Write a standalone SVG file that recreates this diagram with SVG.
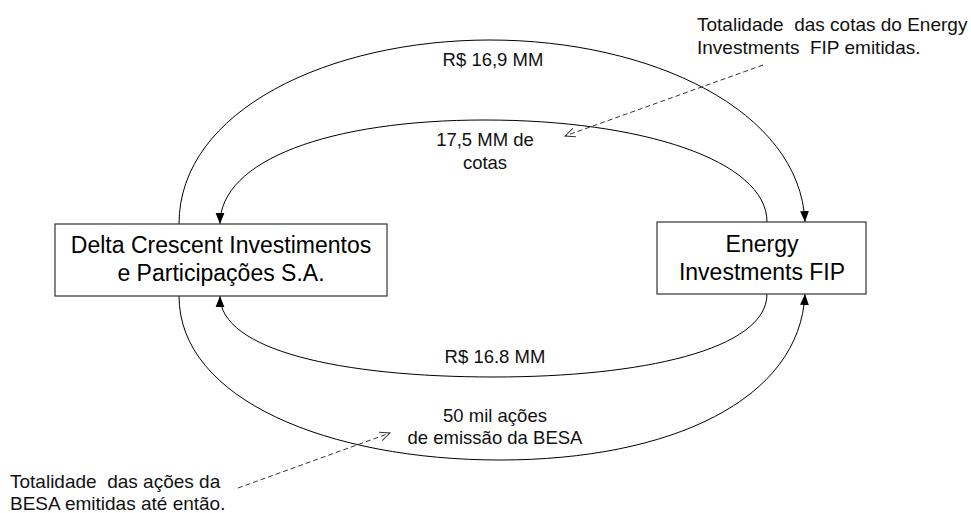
<svg xmlns="http://www.w3.org/2000/svg" width="971" height="513" viewBox="0 0 971 513">
<defs>
<marker id="solid" viewBox="0 0 10 10" refX="10" refY="5" markerWidth="11" markerHeight="11" markerUnits="userSpaceOnUse" orient="auto">
<path d="M0,1 L10,5 L0,9 z" fill="#000"/>
</marker>
<marker id="open" viewBox="0 0 12 12" refX="11" refY="6" markerWidth="12" markerHeight="12" markerUnits="userSpaceOnUse" orient="auto">
<path d="M1,1.5 L11,6 L1,10.5" fill="none" stroke="#333" stroke-width="1"/>
</marker>
<style>
.box{fill:#fff;stroke:#333;stroke-width:1.2}
.arc{fill:none;stroke:#000;stroke-width:1;marker-end:url(#solid)}
.dash{fill:none;stroke:#333;stroke-width:1;stroke-dasharray:5 3;marker-end:url(#open)}
.big{font-family:"Liberation Sans",Arial,sans-serif;font-size:23px;fill:#000;text-anchor:middle}
.lbl{font-family:"Liberation Sans",Arial,sans-serif;font-size:18.5px;fill:#111;text-anchor:middle}
.note{font-family:"Liberation Sans",Arial,sans-serif;font-size:19px;fill:#111}
</style>
</defs>
<rect width="971" height="513" fill="#fff"/>
<g id="connectors">
<path class="arc" d="M179,224 C179,110 330,40 490,40 C650,40 800,110 805,222"/>
<path class="arc" d="M767,222 C767,160 640,120 485,120 C330,120 220,160 220,224"/>
<path class="arc" d="M767,294 C767,350 640,377 494,377 C340,377 220,350 220,296"/>
<path class="arc" d="M179,296 C179,400 330,460 500,460 C670,460 800,400 805,294"/>
<path class="dash" d="M763,65 L565,136"/>
<path class="dash" d="M238,488 L390,433"/>
</g>
<g id="delta">
<rect class="box" x="55" y="224" width="332" height="72"/>
<text class="big" x="221" y="253">Delta Crescent Investimentos</text>
<text class="big" x="221" y="281">e Participações S.A.</text>
</g>
<g id="energy">
<rect class="box" x="657" y="222" width="209" height="72"/>
<text class="big" x="762" y="252">Energy</text>
<text class="big" x="762" y="280">Investments FIP</text>
</g>
<g id="labels">
<text class="lbl" x="493" y="66">R$ 16,9 MM</text>
<text class="lbl" x="485" y="146">17,5 MM de</text>
<text class="lbl" x="485" y="169">cotas</text>
<text class="lbl" x="495" y="363">R$ 16.8 MM</text>
<text class="lbl" x="495" y="422">50 mil ações</text>
<text class="lbl" x="495" y="444">de emissão da BESA</text>
</g>
<g id="notes">
<text class="note" x="697" y="31" xml:space="preserve">Totalidade  das cotas do Energy</text>
<text class="note" x="697" y="54" xml:space="preserve">Investments  FIP emitidas.</text>
<text class="note" x="10" y="488" xml:space="preserve">Totalidade  das ações da</text>
<text class="note" x="10" y="510">BESA emitidas até então.</text>
</g>
</svg>
